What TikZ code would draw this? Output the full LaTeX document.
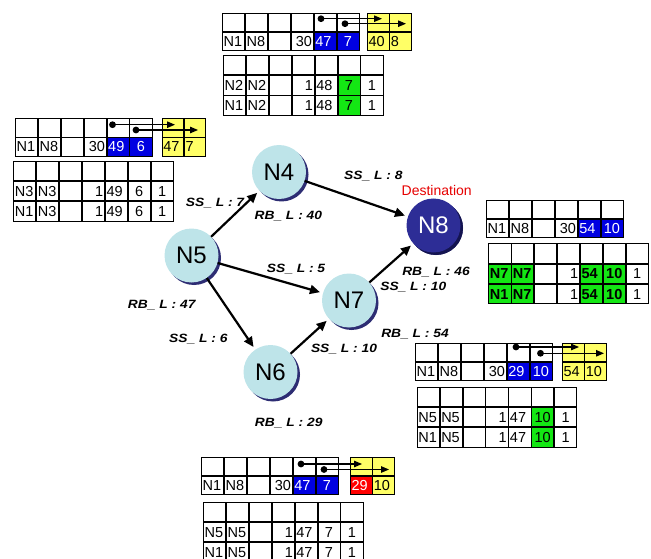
\documentclass[tikz,border=0pt]{standalone}
\usepackage{fontspec}
\setmainfont{Liberation Sans}
\newfontfamily\lblfont[FakeStretch=1.15]{Liberation Sans}
\usetikzlibrary{matrix,arrows.meta,shadows}

\definecolor{nodefill}{RGB}{190,228,233}
\definecolor{nodeshade}{RGB}{45,45,115}
\definecolor{destfill}{RGB}{45,45,150}
\definecolor{destshade}{RGB}{20,20,80}
\definecolor{cellblue}{RGB}{0,0,225}
\definecolor{cellyellow}{RGB}{255,255,102}
\definecolor{cellgreen}{RGB}{20,230,20}
\definecolor{cellred}{RGB}{255,0,0}
\definecolor{destred}{RGB}{230,0,0}

\newcommand\tabfont{\fontsize{14.5}{14.5}\selectfont}

\tikzset{
  tbl/.style={matrix of nodes, nodes in empty cells, anchor=north west,
    inner sep=0pt, outer sep=0pt, column sep=0pt, row sep=0pt,
    nodes={draw, line width=0.7pt, anchor=center, outer sep=0pt,
      inner xsep=1.3pt, inner ysep=0pt, text width=19.6pt,
      text height=10.4pt, text depth=0pt, align=center, font=\tabfont},
    column 1/.style={nodes={align=left}},
    column 2/.style={nodes={align=left}},
    column 4/.style={nodes={align=right}},
    column 5/.style={nodes={align=left}}},
  pathtbl/.style={tbl, nodes={minimum height=18.3pt}},
  routetbl/.style={tbl, nodes={minimum height=19.5pt}},
  ytbl/.style={tbl, nodes={minimum height=18.3pt, text width=18.9pt,
      fill=cellyellow}, column 2/.style={nodes={align=left}}},
  bl/.style={fill=cellblue, text=white},
  gr/.style={fill=cellgreen},
  grb/.style={fill=cellgreen, font=\tabfont\bfseries},
  router/.style={circle, fill=nodefill, minimum size=54pt, inner sep=0pt,
    font=\fontsize{24}{24}\selectfont,
    drop shadow={shadow xshift=2.5pt, shadow yshift=-2.5pt, fill=nodeshade,
      opacity=1}},
  link/.style={line width=2.2pt, shorten >=3pt,
    -{Triangle[length=10pt,width=9pt]}},
  lbl/.style={font=\lblfont\fontsize{12}{12}\selectfont\bfseries\itshape},
  ptr/.style={line width=1.1pt, -{Triangle[length=8pt,width=6.5pt]}},
}

\begin{document}
\begin{tikzpicture}[x=1pt, y=-1pt]
  \useasboundingbox (0,0) rectangle (651,559);

  \node[router] (n4) at (279,172) {N4};
  \node[router] (n5) at (191.5,255.5) {N5};
  \node[router, fill=destfill, text=white,
    drop shadow={shadow xshift=2.5pt, shadow yshift=-2.5pt, fill=destshade,
      opacity=1}] (n8) at (433.5,225.5) {N8};
  \node[router] (n7) at (349,300.5) {N7};
  \node[router] (n6) at (270.5,372) {N6};

  \draw[link] (n5) -- (n4);
  \draw[link] (n4) -- (n8);
  \draw[link] (n5) -- (n7);
  \draw[link] (n5) -- (n6);
  \draw[link] (n6) -- (n7);
  \draw[link] (n7) -- (n8);

  \node[text=destred, font=\fontsize{14}{14}\selectfont] (dest) at (436.7,190)
    {Destination};
  \node[lbl] (s48) at (373.3,175.7) {SS\_ L : 8};
  \node[lbl] (s54) at (215,202.7) {SS\_ L : 7};
  \node[lbl] (s57) at (296,269) {SS\_ L : 5};
  \node[lbl] (s56) at (198.3,339.3) {SS\_ L : 6};
  \node[lbl] (s67) at (344,349) {SS\_ L : 10};
  \node[lbl] (s78) at (413.3,287.3) {SS\_ L : 10};
  \node[lbl] (r4) at (288.3,216) {RB\_ L : 40};
  \node[lbl] (r8) at (436,271.7) {RB\_ L : 46};
  \node[lbl] (r5) at (161.7,305) {RB\_ L : 47};
  \node[lbl] (r7) at (415,334) {RB\_ L : 54};
  \node[lbl] (r6) at (288.7,422.7) {RB\_ L : 29};

  \matrix[pathtbl] (a1) at (222,13) {
    & & & & & \\
    N1 & N8 & & 30 & |[bl]| 47 & |[bl]| 7 \\
  };
  \matrix[ytbl] (y1) at (367,13) {
    & \\
    40 & 8 \\
  };
  \matrix[routetbl] (b1) at (223,55) {
    & & & & & & \\
    N2 & N2 & & 1 & 48 & |[gr]| 7 & 1 \\
    N1 & N2 & & 1 & 48 & |[gr]| 7 & 1 \\
  };

  \matrix[pathtbl] (a2) at (15,118.3) {
    & & & & & \\
    N1 & N8 & & 30 & |[bl]| 49 & |[bl]| 6 \\
  };
  \matrix[ytbl] (y2) at (161.7,118.3) {
    & \\
    47 & 7 \\
  };
  \matrix[routetbl] (b2) at (13.3,160.7) {
    & & & & & & \\
    N3 & N3 & & 1 & 49 & 6 & 1 \\
    N1 & N3 & & 1 & 49 & 6 & 1 \\
  };

  \matrix[pathtbl] (a3) at (486,200) {
    & & & & & \\
    N1 & N8 & & 30 & |[bl]| 54 & |[bl]| 10 \\
  };
  \matrix[routetbl] (b3) at (488.3,243.3) {
    & & & & & & \\
    |[grb]| N7 & |[grb]| N7 & & 1 & |[grb]| 54 & |[grb]| 10 & 1 \\
    |[grb]| N1 & |[grb]| N7 & & 1 & |[grb]| 54 & |[grb]| 10 & 1 \\
  };

  \matrix[pathtbl] (a4) at (415,342.5) {
    & & & & & \\
    N1 & N8 & & 30 & |[bl]| 29 & |[bl]| 10 \\
  };
  \matrix[ytbl] (y4) at (562,342.5) {
    & \\
    54 & 10 \\
  };
  \matrix[routetbl] (b4) at (416.7,386.7) {
    & & & & & & \\
    N5 & N5 & & 1 & 47 & |[gr]| 10 & 1 \\
    N1 & N5 & & 1 & 47 & |[gr]| 10 & 1 \\
  };

  \matrix[pathtbl] (a5) at (201,457) {
    & & & & & \\
    N1 & N8 & & 30 & |[bl]| 47 & |[bl]| 7 \\
  };
  \matrix[ytbl] (y5) at (350,457) {
    & \\
    |[fill=cellred, text=white]| 29 & 10 \\
  };
  \matrix[routetbl] (b5) at (203,501.7) {
    & & & & & & \\
    N5 & N5 & & 1 & 47 & 7 & 1 \\
    N1 & N5 & & 1 & 47 & 7 & 1 \\
  };

  \coordinate (a1p) at (321,18.7);   \coordinate (a1q) at (382,18.7);
  \coordinate (a1r) at (345,23.7);   \coordinate (a1s) at (406,23.7);
  \coordinate (a2p) at (112.5,124.7); \coordinate (a2q) at (175,124.7);
  \coordinate (a2r) at (136,130);    \coordinate (a2s) at (198,130);
  \coordinate (a4p) at (516,347);    \coordinate (a4q) at (579,347);
  \coordinate (a4r) at (540.5,353.3); \coordinate (a4s) at (604,353.3);
  \coordinate (a5p) at (301,464);    \coordinate (a5q) at (362,464);
  \coordinate (a5r) at (324,469.5);  \coordinate (a5s) at (389,469.5);

  \fill (a1p) circle (3.4); \draw[ptr] (a1p) -- (a1q);
  \fill (a1r) circle (3.4); \draw[ptr] (a1r) -- (a1s);
  \fill (a2p) circle (3.4); \draw[ptr] (a2p) -- (a2q);
  \fill (a2r) circle (3.4); \draw[ptr] (a2r) -- (a2s);
  \fill (a4p) circle (3.4); \draw[ptr] (a4p) -- (a4q);
  \fill (a4r) circle (3.4); \draw[ptr] (a4r) -- (a4s);
  \fill (a5p) circle (3.4); \draw[ptr] (a5p) -- (a5q);
  \fill (a5r) circle (3.4); \draw[ptr] (a5r) -- (a5s);
\end{tikzpicture}
\end{document}
